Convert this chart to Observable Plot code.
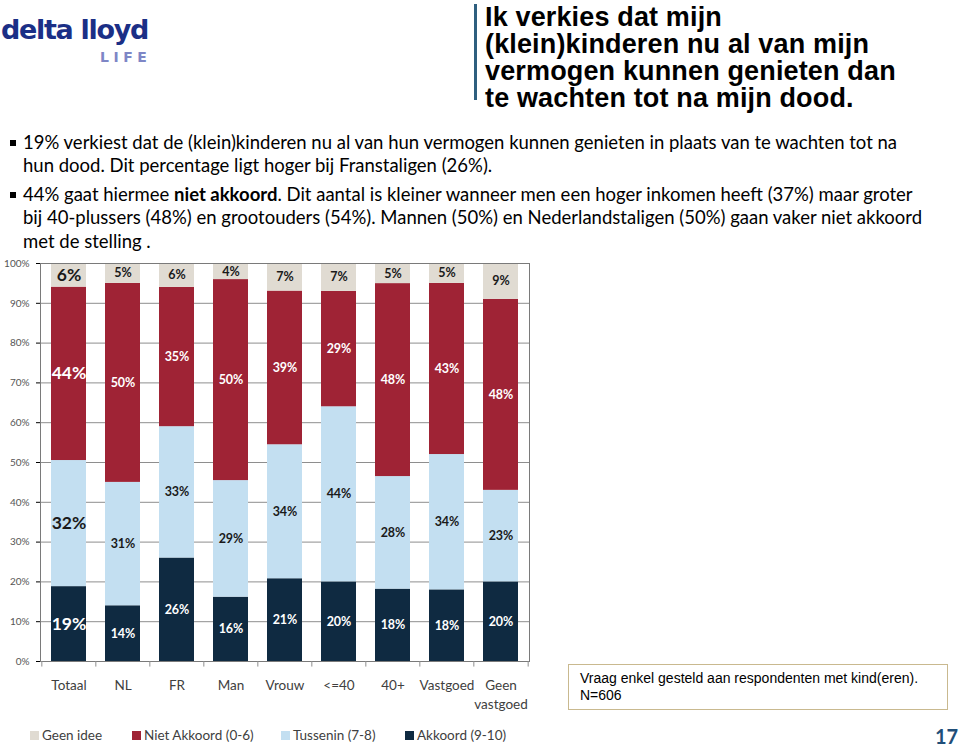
<!DOCTYPE html>
<html>
<head>
<meta charset="utf-8">
<script src="https://cdn.jsdelivr.net/npm/d3@7"></script>
<script src="https://cdn.jsdelivr.net/npm/@observablehq/plot@0.6"></script>
<style>
  html, body { margin: 0; padding: 0; background: #fff; }
  body { width: 960px; height: 749px; position: relative; overflow: hidden; font-family: Lato, "Open Sans", sans-serif; }
  .abs { position: absolute; white-space: nowrap; }
  #logo1 { left: 1px; top: 14px; font-family: "DejaVu Sans", sans-serif; font-weight: 900; font-size: 27px; color: #1b2f86; letter-spacing: -1.3px; }
  #logo2 { left: 100px; top: 49px; font-family: "DejaVu Sans", sans-serif; font-weight: bold; font-size: 14px; color: #7e86c6; letter-spacing: 4.5px; }
  #vline { left: 474px; top: 4px; width: 3px; height: 96px; background: #2f5f7f; }
  .tl { left: 485px; height: 27px; font-family: "Liberation Sans", Arial, sans-serif; font-weight: bold; font-size: 27px; line-height: 27px; color: #000; letter-spacing: 0.15px; }
  .bullet { left: 10px; width: 6px; height: 6px; background: #000; }
  .bl { left: 23px; font-size: 18.5px; color: #000; }
  #chart { left: 0; top: 250px; }
  .leg { top: 727px; font-size: 13.5px; color: #404040; }
  .sw { display: inline-block; width: 9px; height: 9px; margin-right: 3px; }
  #note { left: 568px; top: 664px; width: 380px; height: 46px; border: 1.5px solid #c9b98f; box-sizing: border-box; font-family: "Liberation Sans", Arial, sans-serif; font-size: 14px; line-height: 17px; padding: 5px 0 0 11px; color: #000; }
  #page { left: 935px; top: 724px; font-size: 20px; font-weight: bold; color: #1f4e79; }
</style>
</head>
<body>
<div id="logo1" class="abs">delta lloyd</div>
<div id="logo2" class="abs">LIFE</div>
<div id="vline" class="abs"></div>
<div class="abs tl" style="top:4px">Ik verkies dat mijn</div>
<div class="abs tl" style="top:31px">(klein)kinderen nu al van mijn</div>
<div class="abs tl" style="top:58px">vermogen kunnen genieten dan</div>
<div class="abs tl" style="top:85px">te wachten tot na mijn dood.</div>

<div class="abs bullet" style="top:140px"></div>
<div class="abs bl" style="top:131px">19% verkiest dat de (klein)kinderen nu al van hun vermogen kunnen genieten in plaats van te wachten tot na</div>
<div class="abs bl" style="top:154px">hun dood. Dit percentage ligt hoger bij Franstaligen (26%).</div>
<div class="abs bullet" style="top:192px"></div>
<div class="abs bl" style="top:183px">44% gaat hiermee <b>niet akkoord</b>. Dit aantal is kleiner wanneer men een hoger inkomen heeft (37%) maar groter</div>
<div class="abs bl" style="top:206px">bij 40-plussers (48%) en grootouders (54%). Mannen (50%) en Nederlandstaligen (50%) gaan vaker niet akkoord</div>
<div class="abs bl" style="top:230px">met de stelling .</div>

<div id="chart" class="abs"></div>
<div id="legend"></div>

<div id="note" class="abs">Vraag enkel gesteld aan respondenten met kind(eren).<br>N=606</div>
<div id="page" class="abs">17</div>

<script>
// ---- data ----
const categories = ["Totaal", "NL", "FR", "Man", "Vrouw", "<=40", "40+", "Vastgoed", "Geen vastgoed"];
const series = ["Akkoord (9-10)", "Tussenin (7-8)", "Niet Akkoord (0-6)", "Geen idee"];
const akkoord     = [19, 14, 26, 16, 21, 20, 18, 18, 20];
const tussenin    = [32, 31, 33, 29, 34, 44, 28, 34, 23];
const nietAkkoord = [44, 50, 35, 50, 39, 29, 48, 43, 48];
const geenIdee    = [6, 5, 6, 4, 7, 7, 5, 5, 9];
const yTicks = [0, 0.1, 0.2, 0.3, 0.4, 0.5, 0.6, 0.7, 0.8, 0.9, 1];
const legendOrder = ["Geen idee", "Niet Akkoord (0-6)", "Tussenin (7-8)", "Akkoord (9-10)"];

// ---- styles ----
const colors = {"Akkoord (9-10)": "#0f2a41", "Tussenin (7-8)": "#c3dff1", "Niet Akkoord (0-6)": "#9f2335", "Geen idee": "#e0dbd2"};
const labelColors = {"Akkoord (9-10)": "#ffffff", "Tussenin (7-8)": "#1a1a1a", "Niet Akkoord (0-6)": "#ffffff", "Geen idee": "#1a1a1a"};

const valuesBySeries = [akkoord, tussenin, nietAkkoord, geenIdee];
const data = [];
categories.forEach((c, i) => series.forEach((s, j) => data.push({category: c, series: s, value: valuesBySeries[j][i]})));

const W = 540, H = 465, mL = 40, mR = 11, mT = 13, mB = 54;
const step = (W - mL - mR) / categories.length;
const stack = {x: "category", y: "value", z: "series", order: series, offset: "normalize"};

const chart = Plot.plot({
  width: W, height: H,
  marginLeft: mL, marginRight: mR, marginTop: mT, marginBottom: mB,
  style: {fontFamily: "Lato, sans-serif", background: "transparent"},
  x: {domain: categories, paddingInner: 0.36, paddingOuter: 0.18, axis: null},
  y: {domain: [0, 1], ticks: yTicks, tickFormat: d => Math.round(d * 100) + "%", tickSize: 4, tickPadding: 7, label: null, fontSize: 11.5},
  color: {type: "identity"},
  marks: [
    Plot.ruleY(yTicks, {stroke: "#8e8e8e", strokeWidth: 1}),
    Plot.barY(data, Plot.stackY({...stack, fill: d => colors[d.series]})),
    Plot.frame({stroke: "#7a7a7a", strokeWidth: 1}),
    Plot.ruleX(categories, {x: d => d, dx: -step / 2, y1: 0, y2: -0.014, stroke: "#8e8e8e"}),
    Plot.ruleX([categories[categories.length - 1]], {x: d => d, dx: step / 2, y1: 0, y2: -0.014, stroke: "#8e8e8e"}),
    Plot.text(data, Plot.stackY({...stack,
      text: d => d.value + "%",
      fill: d => labelColors[d.series],
      fontSize: d => d.category === "Totaal" ? 17.5 : 12.5,
      fontWeight: "bold"})),
    Plot.text(categories, {x: d => d, frameAnchor: "bottom", dy: 16, lineAnchor: "top",
      text: d => d.replace(" ", "\n"), fill: "#404040", fontSize: 13.5, lineHeight: 1.35})
  ]
});
chart.querySelectorAll("g[aria-label='y-axis tick label'] text, g[aria-label='y-axis'] text").forEach(t => t.setAttribute("fill", "#555"));
document.getElementById("chart").appendChild(chart);

// ---- legend ----
const legX = [30, 132, 281, 405];
const leg = document.getElementById("legend");
legendOrder.forEach((s, i) => {
  const d = document.createElement("div");
  d.className = "abs leg";
  d.style.left = legX[i] + "px";
  d.innerHTML = `<span class="sw" style="background:${colors[s]}"></span>${s}`;
  leg.appendChild(d);
});
</script>
</body>
</html>
